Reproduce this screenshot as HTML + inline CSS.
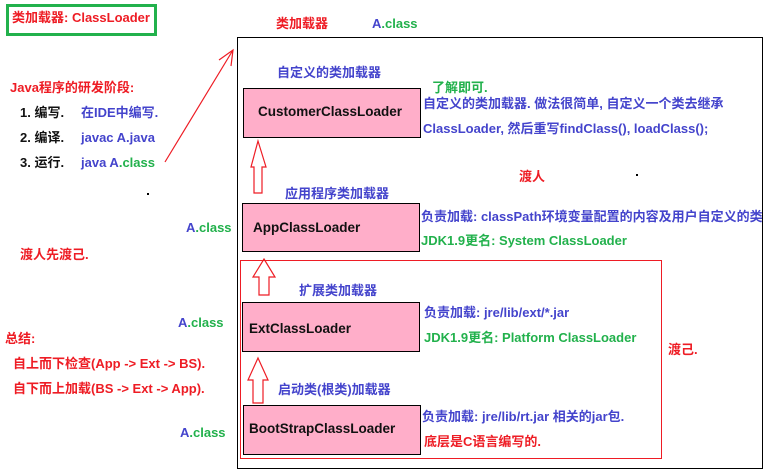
<!DOCTYPE html>
<html><head><meta charset="utf-8"><style>
body{margin:0;width:765px;height:475px;background:#fff;position:relative;overflow:hidden;font-family:"Liberation Sans","Noto Sans CJK SC",sans-serif;font-weight:bold;font-size:13px}
.t{position:absolute;white-space:nowrap;line-height:16px}
.r{color:#ee1c24}.b{color:#4444cc}.g{color:#22b14c}.k{color:#111}
.box{position:absolute;background:#ffaec9;border:1.5px solid #000;box-sizing:border-box}
</style></head><body>
<div style="position:absolute;left:6px;top:4px;width:151px;height:32px;border:3px solid #22b14c;box-sizing:border-box"></div>
<div class="t r" style="left:12px;top:10px">类加载器: ClassLoader</div>
<div class="t r" style="left:276px;top:16px">类加载器</div>
<div class="t" style="left:372px;top:16px"><span class="b">A</span><span class="g">.class</span></div>
<div style="position:absolute;left:237px;top:37px;width:526px;height:432px;border:1.5px solid #000;box-sizing:border-box"></div>
<div style="position:absolute;left:240px;top:260px;width:422px;height:199px;border:1.5px solid #ee1c24;box-sizing:border-box"></div>
<div class="box" style="left:243px;top:88px;width:178px;height:50px"></div>
<div class="box" style="left:242px;top:203px;width:178px;height:49px"></div>
<div class="box" style="left:242px;top:302px;width:178px;height:50px"></div>
<div class="box" style="left:243px;top:405px;width:178px;height:50px"></div>
<div class="t k" style="left:258px;top:104px;font-size:13.5px">CustomerClassLoader</div>
<div class="t k" style="left:253px;top:220px;font-size:13.5px">AppClassLoader</div>
<div class="t k" style="left:249px;top:321px;font-size:13.5px">ExtClassLoader</div>
<div class="t k" style="left:249px;top:421px;font-size:13.5px">BootStrapClassLoader</div>
<div class="t b" style="left:277px;top:65px">自定义的类加载器</div>
<div class="t b" style="left:285px;top:186px">应用程序类加载器</div>
<div class="t b" style="left:299px;top:283px">扩展类加载器</div>
<div class="t b" style="left:278px;top:382px">启动类(根类)加载器</div>
<svg style="position:absolute;left:0;top:0" width="765" height="475">
<g fill="none" stroke="#ee1c24" stroke-width="1.2">
<path d="M258 141 L266 167 L262 167 L262 193 L254 193 L254 167 L251 167 Z"/>
<path d="M264 259 L275 277 L269 277 L269 295 L259 295 L259 277 L253 277 Z"/>
<path d="M258 358 L268 380 L263 380 L263 403 L253 403 L253 380 L248 380 Z"/>
<path d="M165 162 L233 50 M219 60 L233 50 L231 66"/>
</g></svg>
<div class="t r" style="left:10px;top:80px">Java程序的研发阶段:</div>
<div class="t k" style="left:20px;top:105px">1. 编写.</div>
<div class="t k" style="left:20px;top:130px">2. 编译.</div>
<div class="t k" style="left:20px;top:155px">3. 运行.</div>
<div class="t b" style="left:81px;top:105px">在IDE中编写.</div>
<div class="t b" style="left:81px;top:130px">javac A.java</div>
<div class="t" style="left:81px;top:155px"><span class="b">java A</span><span class="g">.class</span></div>
<div class="t" style="left:186px;top:220px"><span class="b">A</span><span class="g">.class</span></div>
<div class="t" style="left:178px;top:315px"><span class="b">A</span><span class="g">.class</span></div>
<div class="t" style="left:180px;top:425px"><span class="b">A</span><span class="g">.class</span></div>
<div class="t r" style="left:20px;top:247px">渡人先渡己.</div>
<div class="t r" style="left:5px;top:331px">总结:</div>
<div class="t r" style="left:13px;top:356px">自上而下检查(App -&gt; Ext -&gt; BS).</div>
<div class="t r" style="left:13px;top:381px">自下而上加载(BS -&gt; Ext -&gt; App).</div>
<div class="t g" style="left:432px;top:80px">了解即可.</div>
<div class="t b" style="left:423px;top:96px">自定义的类加载器. 做法很简单, 自定义一个类去继承</div>
<div class="t b" style="left:423px;top:121px">ClassLoader, 然后重写findClass(), loadClass();</div>
<div class="t r" style="left:519px;top:169px">渡人</div>
<div class="t b" style="left:421px;top:209px">负责加载: classPath环境变量配置的内容及用户自定义的类</div>
<div class="t g" style="left:421px;top:233px">JDK1.9更名: System ClassLoader</div>
<div class="t b" style="left:424px;top:305px">负责加载: jre/lib/ext/*.jar</div>
<div class="t g" style="left:424px;top:330px">JDK1.9更名: Platform ClassLoader</div>
<div class="t r" style="left:668px;top:342px">渡己.</div>
<div class="t b" style="left:422px;top:409px">负责加载: jre/lib/rt.jar 相关的jar包.</div>
<div class="t r" style="left:424px;top:434px">底层是C语言编写的.</div>
<div style="position:absolute;left:636px;top:174px;width:2px;height:2px;background:#000"></div>
<div style="position:absolute;left:147px;top:193px;width:2px;height:2px;background:#000"></div>
</body></html>
